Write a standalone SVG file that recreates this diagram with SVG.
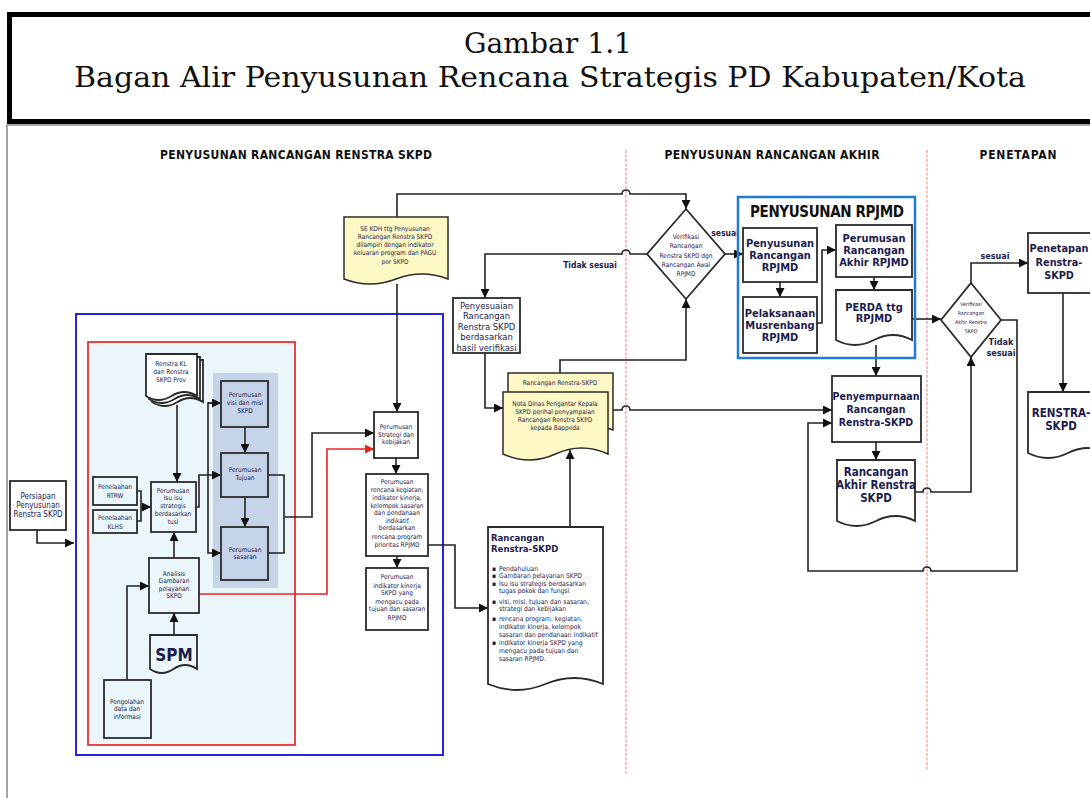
<svg xmlns="http://www.w3.org/2000/svg" width="1090" height="798" viewBox="0 0 1090 798">
<defs>
<marker id="ah" viewBox="0 0 10 10" refX="10" refY="5" markerWidth="9" markerHeight="9" markerUnits="userSpaceOnUse" orient="auto"><path d="M0,0 L10,5 L0,10 z" fill="#111"/></marker>
<marker id="ahr" viewBox="0 0 10 10" refX="10" refY="5" markerWidth="9" markerHeight="9" markerUnits="userSpaceOnUse" orient="auto"><path d="M0,0 L10,5 L0,10 z" fill="#f02020"/></marker>
<style>
.n{fill:#fff;stroke:#2b2b2b;stroke-width:1.8}
.nl{fill:#eaf6f9;stroke:#2b2b2b;stroke-width:1.8}
.np{fill:#c6d4ea;stroke:#2b2b2b;stroke-width:1.8}
.ny{fill:#fdf8c4;stroke:#2b2b2b;stroke-width:1.5}
.t{font-family:"DejaVu Sans Condensed","Liberation Sans Narrow","Liberation Sans",sans-serif;fill:#1c1c4c;text-anchor:middle}
.s{font-size:6.5px}
.m{font-size:11px;font-weight:bold}
.b{font-weight:bold}
.h{font-family:"DejaVu Sans Condensed","Liberation Sans Narrow","Liberation Sans",sans-serif;font-size:12px;font-weight:bold;fill:#111;text-anchor:middle}
.c{fill:none;stroke:#222;stroke-width:1.6}
.cr{fill:none;stroke:#f02020;stroke-width:1.6}
.dv{stroke:#f07f7f;stroke-width:1;stroke-dasharray:3 1.5}
</style>
</defs>
<rect width="1090" height="798" fill="#fff"/>
<g id="title">
<path d="M7,798 V125 H1090" fill="none" stroke="#888" stroke-width="1.5"/>
<rect x="9.5" y="14.5" width="1100" height="107" fill="none" stroke="#000" stroke-width="5"/>
<text x="548" y="53" font-family="DejaVu Serif" font-size="27" text-anchor="middle" textLength="168" lengthAdjust="spacingAndGlyphs" fill="#111">Gambar 1.1</text>
<text x="550" y="87" font-family="DejaVu Serif" font-size="27" text-anchor="middle" textLength="952" lengthAdjust="spacingAndGlyphs" fill="#111">Bagan Alir Penyusunan Rencana Strategis PD Kabupaten/Kota</text>
</g>
<g id="headers">
<text class="h" x="296" y="159" textLength="272">PENYUSUNAN RANCANGAN RENSTRA SKPD</text>
<text class="h" x="772" y="159" textLength="215">PENYUSUNAN RANCANGAN AKHIR</text>
<text class="h" x="1018" y="159" textLength="77">PENETAPAN</text>
<line class="dv" x1="626" y1="150" x2="626" y2="775"/>
<line class="dv" x1="927" y1="150" x2="927" y2="770"/>
</g>
<g id="containers">
<rect x="76" y="314" width="367" height="441" fill="none" stroke="#2424e6" stroke-width="2"/>
<rect x="88" y="342" width="207" height="403" fill="#eaf6f9" stroke="#ee3030" stroke-width="1.8"/>
<rect x="213" y="373" width="65" height="215" fill="#c6d4ea"/>
</g>
<g id="connectors">
<path class="c" d="M37,530 V543 H74" marker-end="url(#ah)"/>
<path class="c" d="M177,405 V482" marker-end="url(#ah)"/>
<path class="c" d="M137,491 H141 V521 H137 M141,507 H151" marker-end="url(#ah)"/>
<path class="c" d="M174,558 V532" marker-end="url(#ah)"/>
<path class="c" d="M174,635 V613" marker-end="url(#ah)"/>
<path class="c" d="M127,680 V586 H149" marker-end="url(#ah)"/>
<path class="c" d="M196,507 H199 V475 H221" marker-end="url(#ah)"/>
<path class="c" d="M221,403 H208 V553 H221" marker-end="url(#ah)"/>
<path class="c" d="M208,403 H221" marker-end="url(#ah)"/>
<path class="c" d="M245,427 V453" marker-end="url(#ah)"/>
<path class="c" d="M245,497 V527" marker-end="url(#ah)"/>
<path class="c" d="M268,475 H284 V553 H268 M284,517 H312 V433 H374" marker-end="url(#ah)"/>
<path class="cr" d="M199,594 H327 V449 H374" marker-end="url(#ahr)"/>
<path class="c" d="M397,217 V194 H622 a4,4 0 0 1 8,0 H686 V209" marker-end="url(#ah)"/>
<path class="c" d="M397,284 V412" marker-end="url(#ah)"/>
<path class="c" d="M396,458 V474" marker-end="url(#ah)"/>
<path class="c" d="M397,556 V568" marker-end="url(#ah)"/>
<path class="c" d="M428,545 H455 V608 H488" marker-end="url(#ah)"/>
<path class="c" d="M647,254 H630 a4,4 0 0 0 -8,0 H485 V298" marker-end="url(#ah)"/>
<path class="c" d="M485,353 V408 H503" marker-end="url(#ah)"/>
<path class="c" d="M560,373 V360 H686 V299" marker-end="url(#ah)"/>
<path class="c" d="M570,527 V450" marker-end="url(#ah)"/>
<path class="c" d="M613,410 H622 a4,4 0 0 1 8,0 H832" marker-end="url(#ah)"/>
<path class="c" d="M725,254 H743" marker-end="url(#ah)"/>
<path class="c" d="M780,282 V297" marker-end="url(#ah)"/>
<path class="c" d="M817,323 H822 V250 H836" marker-end="url(#ah)"/>
<path class="c" d="M874,277 V290" marker-end="url(#ah)"/>
<path class="c" d="M912,319 H941" marker-end="url(#ah)"/>
<path class="c" d="M876,345 V376" marker-end="url(#ah)"/>
<path class="c" d="M876,442 V460" marker-end="url(#ah)"/>
<path class="c" d="M915,492 H923 a4,4 0 0 1 8,0 H971 V357" marker-end="url(#ah)"/>
<path class="c" d="M1001,320 H1017 V571 H931 a4,4 0 0 0 -8,0 H808 V423 H832" marker-end="url(#ah)"/>
<path class="c" d="M971,283 V263 H1028" marker-end="url(#ah)"/>
<path class="c" d="M1063,293 V392" marker-end="url(#ah)"/>
</g>
<g id="labels">
<text class="t b" x="590" y="268" font-size="8.5">Tidak sesuai</text>
<text class="t b" x="725" y="236" font-size="8.5">sesuai</text>
<text class="t b" x="995" y="259" font-size="9">sesuai</text>
<text class="t b" x="1001" y="345" font-size="9"><tspan x="1001" y="345">Tidak</tspan><tspan x="1001" y="356">sesuai</tspan></text>
</g>
<g id="persiapan"><rect class="n" x="10" y="481" width="56" height="49"/><text class="t" font-size="8"><tspan x="38" y="499">Persiapan</tspan><tspan x="38" y="508">Penyusunan</tspan><tspan x="38" y="517">Renstra SKPD</tspan></text></g>
<g id="renstrakl">
<path class="n" d="M152,360 H203 V402 Q190.25,394 177.5,402 T152,402 Z"/>
<path class="n" d="M149,357 H200 V399 Q187.25,391 174.5,399 T149,399 Z"/>
<path class="n" d="M146,354 H197 V396 Q184.25,388 171.5,396 T146,396 Z"/>
<text class="t s"><tspan x="171" y="366">Renstra KL</tspan><tspan x="171" y="374">dan Renstra</tspan><tspan x="171" y="382">SKPD Prov</tspan></text>
</g>
<g id="rtrw"><rect class="nl" x="93" y="477" width="44" height="28"/><text class="t s"><tspan x="115" y="489">Penelaahan</tspan><tspan x="115" y="498">RTRW</tspan></text></g>
<g id="klhs"><rect class="nl" x="93" y="510" width="44" height="23"/><text class="t s"><tspan x="115" y="520">Penelaahan</tspan><tspan x="115" y="529">KLHS</tspan></text></g>
<g id="isu"><rect class="nl" x="151" y="482" width="45" height="50"/><text class="t s"><tspan x="173" y="493">Perumusan</tspan><tspan x="173" y="500">Isu isu</tspan><tspan x="173" y="508">strategis</tspan><tspan x="173" y="516">berdasarkan</tspan><tspan x="173" y="524">tusi</tspan></text></g>
<g id="analisis"><rect class="nl" x="149" y="558" width="50" height="55"/><text class="t s"><tspan x="174" y="576">Analisis</tspan><tspan x="174" y="583">Gambaran</tspan><tspan x="174" y="591">pelayanan</tspan><tspan x="174" y="598">SKPD</tspan></text></g>
<g id="spm"><path class="nl" d="M150,635 H197 V669 Q185.25,661 173.5,669 T150,669 Z"/><text class="t b" x="174" y="661" font-size="17">SPM</text></g>
<g id="pengolahan"><rect class="nl" x="104" y="680" width="47" height="58"/><text class="t s"><tspan x="127" y="704">Pengolahan</tspan><tspan x="127" y="711">data dan</tspan><tspan x="127" y="719">informasi</tspan></text></g>
<g id="visi"><rect class="np" x="221" y="381" width="47" height="46"/><text class="t s"><tspan x="245" y="397">Perumusan</tspan><tspan x="245" y="405">visi dan misi</tspan><tspan x="245" y="413">SKPD</tspan></text></g>
<g id="tujuan"><rect class="np" x="221" y="453" width="47" height="44"/><text class="t s"><tspan x="245" y="472">Perumusan</tspan><tspan x="245" y="480">Tujuan</tspan></text></g>
<g id="sasaran"><rect class="np" x="221" y="527" width="47" height="53"/><text class="t s"><tspan x="245" y="552">Perumusan</tspan><tspan x="245" y="559">sasaran</tspan></text></g>
<g id="sekdh"><path class="ny" d="M344,217 H448 V279 Q422,269 396,279 T344,279 Z"/><text class="t s"><tspan x="395" y="231">SE KDH  ttg Penyusunan</tspan><tspan x="395" y="239">Rancangan Renstra SKPD</tspan><tspan x="395" y="247">dilampiri dengan indikator</tspan><tspan x="395" y="255">keluaran program dan PAGU</tspan><tspan x="395" y="264">per SKPD</tspan></text></g>
<g id="strategi"><rect class="n" x="374" y="412" width="44" height="46"/><text class="t s"><tspan x="396" y="429">Perumusan</tspan><tspan x="396" y="437">Strategi dan</tspan><tspan x="396" y="444">kebijakan</tspan></text></g>
<g id="rencana"><rect class="n" x="366" y="474" width="62" height="82"/><text class="t s"><tspan x="397" y="484">Perumusan</tspan><tspan x="397" y="492">rencana kegiatan,</tspan><tspan x="397" y="500">indikator kinerja,</tspan><tspan x="397" y="508">kelompok sasaran</tspan><tspan x="397" y="515">dan pendanaan</tspan><tspan x="397" y="523">indikatif</tspan><tspan x="397" y="530">berdasarkan</tspan><tspan x="397" y="539">rencana program</tspan><tspan x="397" y="547">prioritas RPJMD</tspan></text></g>
<g id="indikator"><rect class="n" x="366" y="568" width="62" height="62"/><text class="t s"><tspan x="397" y="579">Perumusan</tspan><tspan x="397" y="588">indikator kinerja</tspan><tspan x="397" y="595">SKPD yang</tspan><tspan x="397" y="604">mengacu pada</tspan><tspan x="397" y="611">tujuan dan sasaran</tspan><tspan x="397" y="620">RPJMD</tspan></text></g>
<g id="penyesuaian"><rect class="n" x="453" y="298" width="67" height="55"/><text class="t" font-size="9.4"><tspan x="486.5" y="308.5">Penyesuaian</tspan><tspan x="486.5" y="319">Rancangan</tspan><tspan x="486.5" y="329.5">Renstra SKPD</tspan><tspan x="486.5" y="340">berdasarkan</tspan><tspan x="486.5" y="350.5">hasil verifikasi</tspan></text></g>
<g id="nota">
<path class="ny" d="M508,373 H613 V430 Q586.75,420 560.5,430 T508,430 Z"/>
<text class="t s" x="560" y="385">Rancangan Renstra-SKPD</text>
<path class="ny" d="M503,392 H608 V454 Q581.75,442 555.5,454 T503,454 Z"/>
<text class="t s"><tspan x="555" y="406">Nota Dinas Pengantar Kepala</tspan><tspan x="555" y="414">SKPD perihal penyampaian</tspan><tspan x="555" y="422">Rancangan Renstra SKPD</tspan><tspan x="555" y="430">kepada Bappeda</tspan></text>
</g>
<g id="rancangan">
<path class="n" d="M488,527 H603 V684 Q574.25,672 545.5,684 T488,684 Z"/>
<text class="t b" font-size="9.5" style="text-anchor:start"><tspan x="491" y="541">Rancangan</tspan><tspan x="491" y="552">Renstra-SKPD</tspan></text>
<text class="t" font-size="6.7" style="text-anchor:start">
<tspan x="492" y="571">▪</tspan><tspan x="499" y="571">Pendahuluan</tspan>
<tspan x="492" y="578">▪</tspan><tspan x="499" y="578">Gambaran pelayanan SKPD</tspan>
<tspan x="492" y="586">▪</tspan><tspan x="499" y="586">Isu isu strategis  berdasarkan</tspan>
<tspan x="499" y="593">tugas pokok dan fungsi</tspan>
<tspan x="492" y="604">▪</tspan><tspan x="499" y="604">visi, misi, tujuan dan sasaran,</tspan>
<tspan x="499" y="611">strategi dan kebijakan</tspan>
<tspan x="492" y="621">▪</tspan><tspan x="499" y="621">rencana program, kegiatan,</tspan>
<tspan x="499" y="629">indikator kinerja, kelompok</tspan>
<tspan x="499" y="637">sasaran dan pendanaan indikatif</tspan>
<tspan x="492" y="645">▪</tspan><tspan x="499" y="645">indikator kinerja SKPD yang</tspan>
<tspan x="499" y="653">mengacu pada tujuan dan</tspan>
<tspan x="499" y="661">sasaran   RPJMD.</tspan>
</text>
</g>
<g id="verif1"><polygon class="n" points="686,209 725,254 686,299 647,254"/><text class="t s"><tspan x="686" y="239">Verifikasi</tspan><tspan x="686" y="248">Rancangan</tspan><tspan x="686" y="258">Renstra SKPD dgn</tspan><tspan x="686" y="267">Rancangan Awal</tspan><tspan x="686" y="276">RPJMD</tspan></text></g>
<g id="rpjmd"><rect x="738" y="197" width="177" height="161" fill="none" stroke="#1f7bd4" stroke-width="2.5"/><text class="t b" x="827" y="217" font-size="15" textLength="154" style="fill:#111">PENYUSUNAN RPJMD</text></g>
<g id="penyusunan"><rect class="n" x="743" y="228" width="74" height="54"/><text class="t m"><tspan x="780" y="247">Penyusunan</tspan><tspan x="780" y="259">Rancangan</tspan><tspan x="780" y="271">RPJMD</tspan></text></g>
<g id="pelaksanaan"><rect class="n" x="743" y="297" width="74" height="56"/><text class="t m"><tspan x="780" y="317">Pelaksanaan</tspan><tspan x="780" y="329">Musrenbang</tspan><tspan x="780" y="341">RPJMD</tspan></text></g>
<g id="perumusanakhir"><rect class="n" x="836" y="225" width="76" height="52"/><text class="t m"><tspan x="874" y="242">Perumusan</tspan><tspan x="874" y="254">Rancangan</tspan><tspan x="874" y="266">Akhir RPJMD</tspan></text></g>
<g id="perda"><path class="n" d="M836,290 H912 V340 Q893,330 874,340 T836,340 Z"/><text class="t m"><tspan x="874" y="311">PERDA ttg</tspan><tspan x="874" y="322">RPJMD</tspan></text></g>
<g id="penyempurnaan"><rect class="n" x="832" y="376" width="89" height="66"/><text class="t m" style="font-size:10.5px"><tspan x="876" y="400">Penyempurnaan</tspan><tspan x="876" y="413">Rancangan</tspan><tspan x="876" y="426">Renstra-SKPD</tspan></text></g>
<g id="rancangakhir"><path class="n" d="M837,460 H915 V521 Q895.5,511 876,521 T837,521 Z"/><text class="t m" style="font-size:11.5px"><tspan x="876" y="476">Rancangan</tspan><tspan x="876" y="489">Akhir Renstra</tspan><tspan x="876" y="502">SKPD</tspan></text></g>
<g id="verif2"><polygon class="n" points="971,283 1001,320 971,357 941,320"/><text class="t" font-size="5.3"><tspan x="971" y="306">Verifikasi</tspan><tspan x="971" y="315">Rancangan</tspan><tspan x="971" y="324">Akhir Renstra</tspan><tspan x="971" y="333">SKPD</tspan></text></g>
<g id="penetapan"><rect class="n" x="1028" y="233" width="80" height="60"/><text class="t m" style="font-size:10.8px"><tspan x="1059" y="252">Penetapan</tspan><tspan x="1059" y="266">Renstra-</tspan><tspan x="1059" y="279">SKPD</tspan></text></g>
<g id="renstra"><path class="n" d="M1028,392 H1108 V453 Q1088,443 1068,453 T1028,453 Z"/><text class="t m" style="font-size:11.5px"><tspan x="1061" y="417">RENSTRA-</tspan><tspan x="1061" y="430">SKPD</tspan></text></g>
</svg>
